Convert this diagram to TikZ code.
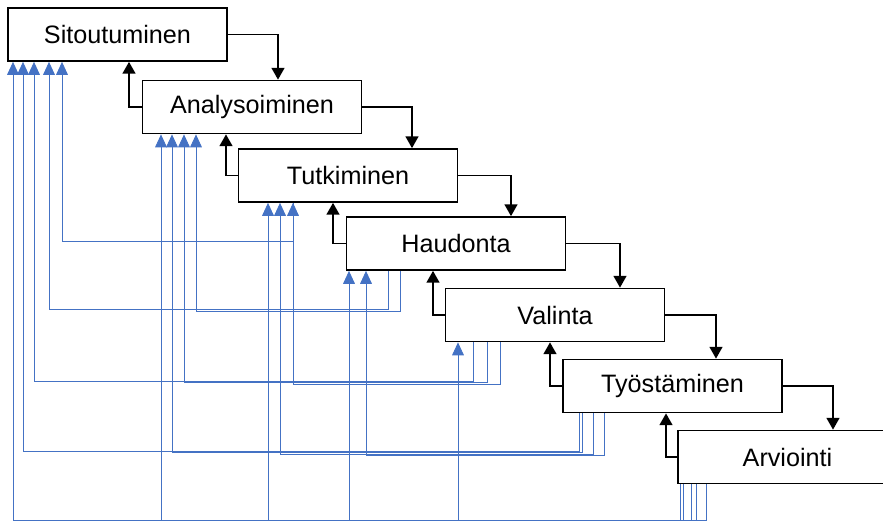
\documentclass[tikz,border=0pt]{standalone}
\usepackage{fontspec}
\setmainfont{Liberation Sans}
\usetikzlibrary{arrows.meta}
\definecolor{fbblue}{RGB}{68,114,196}
\begin{document}
\begin{tikzpicture}[x=0.03cm, y=-0.03cm,
  box/.style={draw, line width=1.5pt, minimum width=6.57cm, minimum height=1.59cm, inner sep=0pt, font=\fontsize{21.5}{26}\selectfont},
  flow/.style={draw, line width=1.2pt, -{Triangle[width=11pt,length=10pt]}},
  fb/.style={draw=fbblue, line width=0.75pt, -{Triangle[width=10pt,length=11pt]}}]
\useasboundingbox (0,0) rectangle (883,522);
\clip (0,0) rectangle (883,522);
% phases
\node[box] (sit) at (117.5,34.5) {Sitoutuminen};
\node[box] (ana) at (252,107) {Analysoiminen};
\node[box] (tut) at (348,175.5) {Tutkiminen};
\node[box] (hau) at (456,243.5) {Haudonta};
\node[box] (val) at (555,315) {Valinta};
\node[box] (tyo) at (672.5,386) {Työstäminen};
\node[box] (arv) at (787.5,457) {Arviointi};
% forward and back steps
\foreach \a/\b/\x in {sit/ana/278, ana/tut/412, tut/hau/511, hau/val/620, val/tyo/716, tyo/arv/833}
  \draw[flow] (\a.east) -| (\x,0 |- \b.north);
\foreach \a/\b/\x in {ana/sit/129, tut/ana/226, hau/tut/333, val/hau/433, tyo/val/550, arv/tyo/666}
  \draw[flow] (\a.west) -| (\x,0 |- \b.south);
% feedback to earlier phases
\foreach \s/\xs/\yl/\t/\xt in {tut/293/241/sit/62,
    hau/388/309/sit/49, hau/400/311/ana/196,
    val/473/381/sit/34, val/487/382.5/ana/184, val/500/384/tut/293,
    tyo/579/451/sit/23, tyo/582/452.5/ana/172, tyo/593/454/tut/280, tyo/604/455.5/hau/366,
    arv/680/520.5/sit/13, arv/683/520.5/ana/161, arv/691/520.5/tut/268, arv/696/520.5/hau/349, arv/706/520.5/val/458}
  \draw[fb] (\xs,0 |- \s.south) -- (\xs,\yl) -- (\xt,\yl) -- (\xt,0 |- \t.south);
\end{tikzpicture}
\end{document}
